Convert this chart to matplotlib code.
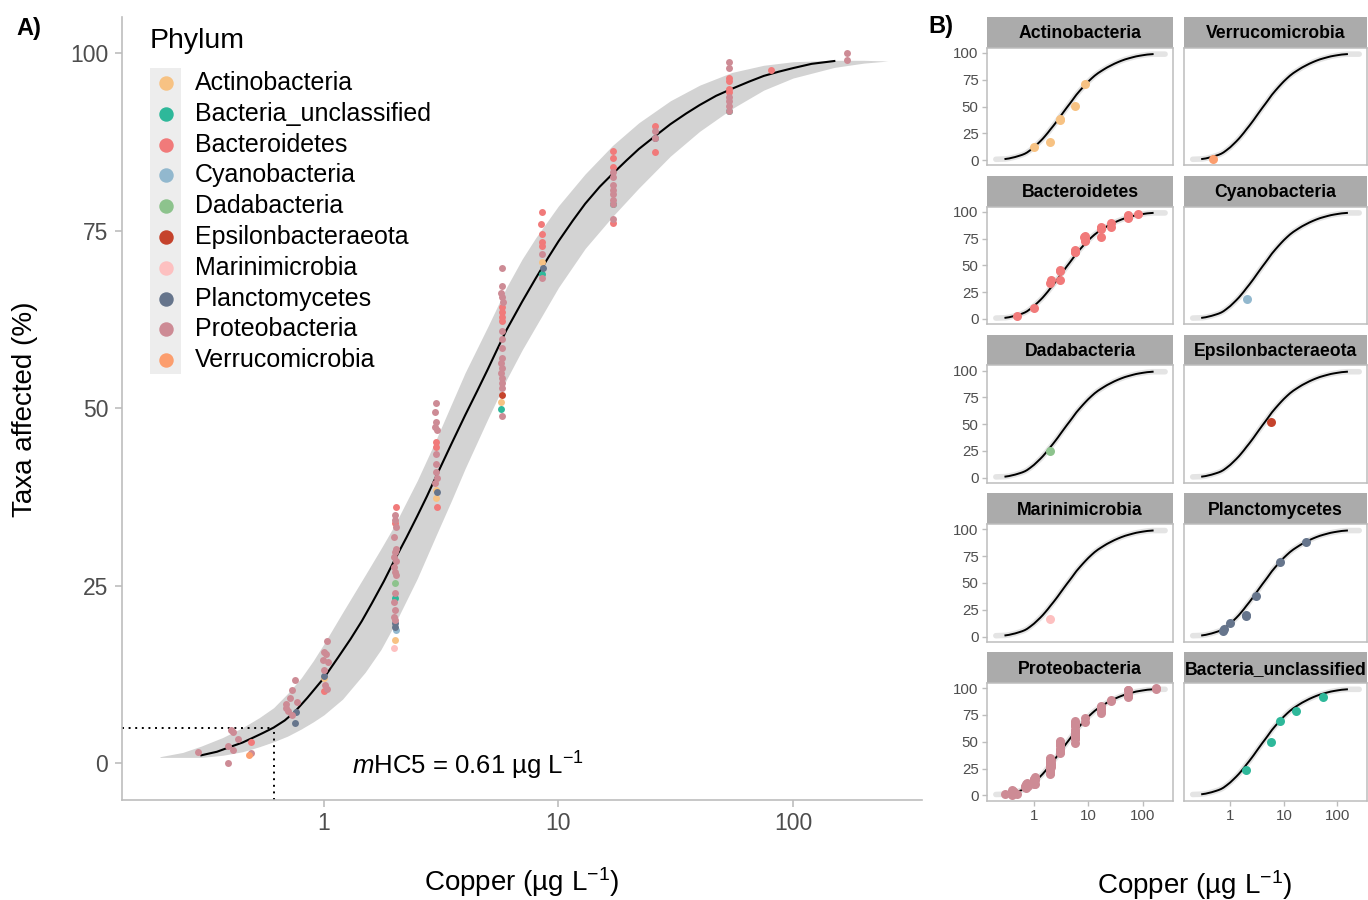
import matplotlib
matplotlib.use("Agg")
import matplotlib.pyplot as plt
from matplotlib.lines import Line2D
from matplotlib.patches import Rectangle
from matplotlib.ticker import NullLocator

plt.rcParams["font.family"] = ["Liberation Sans", "DejaVu Sans"]
plt.rcParams["mathtext.fontset"] = "custom"
plt.rcParams["mathtext.rm"] = "Liberation Sans"
plt.rcParams["mathtext.it"] = "Liberation Sans:italic"

# ---- data (copper in ug/L, taxa affected in %) ----
PHYLA = ["Actinobacteria", "Bacteria_unclassified", "Bacteroidetes", "Cyanobacteria",
         "Dadabacteria", "Epsilonbacteraeota", "Marinimicrobia", "Planctomycetes",
         "Proteobacteria", "Verrucomicrobia"]
COLORS = ["#F7C283", "#2EB89A", "#F17A7A", "#92B8CE", "#8DC38D",
          "#C5432C", "#FDC0C0", "#66758C", "#CD8B95", "#FC9E6E"]

ACTINO_X = [1.0, 2.0, 3.0, 3.0, 5.7, 8.5]
ACTINO_Y = [12.0, 17.3, 38.5, 37.3, 50.9, 70.6]

UNCL_X = [2.0, 5.7, 8.5, 17.1, 53.3]
UNCL_Y = [23.2, 49.9, 68.9, 78.8, 91.9]

BACTERO_X = [0.49, 1.0, 2.02, 2.0, 3.0, 3.01, 3.02, 5.74, 5.74, 5.74, 5.74,
             8.5, 8.45, 8.5, 8.5, 8.5, 17.1, 17.1, 17.1, 17.1, 25.8, 25.8,
             53.3, 53.3, 53.3, 53.3, 80.4]
BACTERO_Y = [3.0, 10.2, 36.1, 33.8, 45.3, 44.5, 36.1, 64.3, 63.6, 62.9, 62.3,
             77.7, 76.0, 74.6, 73.4, 72.9, 86.2, 85.2, 84.0, 76.1, 89.7, 86.1,
             96.5, 96.1, 95.0, 94.6, 97.7]

CYANO_X = [2.02]
CYANO_Y = [18.7]

DADA_X = [2.0]
DADA_Y = [25.3]

EPSILON_X = [5.72]
EPSILON_Y = [51.8]

MARINI_X = [1.98]
MARINI_Y = [16.2]

PLANCTO_X = [0.75, 0.76, 1.0, 2.0, 2.01, 3.04, 8.55, 25.8]
PLANCTO_Y = [5.6, 7.2, 12.2, 19.7, 19.2, 38.2, 69.7, 88.1]

PROTEO_X = [0.29, 0.40, 0.41, 0.43, 0.39, 0.41, 0.39, 0.49,
            0.75, 0.73, 0.72, 0.69, 0.69, 0.70, 0.77, 0.73,
            1.03, 1.00, 1.02, 0.99, 1.04, 1.00, 1.01, 1.03,
            2.00, 2.01, 2.02, 1.98, 2.02, 2.00, 1.99, 2.02, 1.98, 2.00, 2.03,
            2.00, 1.99, 2.00, 1.99, 2.01,
            3.00, 2.97, 3.01, 2.98, 3.03, 3.00, 3.01, 2.99, 3.02, 2.98,
            5.74, 5.74, 5.70, 5.74, 5.78, 5.74, 5.74, 5.76, 5.74, 5.70, 5.74,
            5.70, 5.74, 5.74, 5.74, 5.72,
            8.5, 8.5,
            17.1, 17.1, 17.1, 17.1, 17.1, 17.1, 17.1, 17.1,
            25.8, 25.8,
            53.3, 53.3, 53.3, 53.3, 53.3, 53.3,
            170.0, 170.0]
PROTEO_Y = [1.6, 4.6, 4.4, 3.4, 2.4, 1.8, 0.0, 1.4,
            11.7, 10.3, 9.1, 8.3, 7.7, 7.4, 8.6, 6.8,
            17.2, 15.6, 15.4, 14.5, 14.3, 13.1, 11.0, 10.5,
            34.9, 34.2, 33.3, 31.9, 30.2, 29.8, 29.1, 28.4, 27.6, 26.9, 26.5,
            23.9, 22.7, 21.5, 20.6, 20.2,
            50.7, 49.4, 48.1, 47.4, 46.9, 43.6, 42.2, 41.0, 40.1, 39.5,
            69.7, 67.2, 66.2, 65.7, 65.0, 60.8, 59.8, 58.5, 57.0, 56.3, 55.6,
            54.9, 54.2, 53.6, 52.9, 48.9,
            71.7, 68.4,
            83.3, 82.6, 81.4, 80.7, 80.2, 79.3, 78.8, 76.7,
            89.0, 88.1,
            98.7, 97.9, 93.9, 93.3, 92.6, 91.9,
            100.0, 99.1]

VERRUCO_X = [0.48]
VERRUCO_Y = [1.1]

# fitted species sensitivity curve and its confidence band
CURVE_X = [0.3, 0.35, 0.4, 0.45, 0.5, 0.55, 0.61, 0.68, 0.75, 0.85, 1, 1.15,
           1.3, 1.45, 1.6, 1.8, 2, 2.25, 2.5, 2.75, 3, 3.5, 4, 4.5, 5, 5.5, 6,
           7, 8, 9, 10, 11.5, 13, 15, 17, 19.5, 22, 26, 30, 35, 40, 47, 55, 65,
           75, 87, 100, 120, 150]
CURVE_Y = [1.1, 1.6, 2.3, 2.9, 3.6, 4.25, 5.0, 6.0, 7.2, 9.2, 12.0, 14.9,
           17.5, 20.0, 22.5, 25.6, 28.6, 31.8, 34.8, 37.6, 40.3, 45.0, 49.0,
           52.4, 55.5, 58.4, 61.0, 65.0, 68.3, 71.1, 73.5, 76.4, 78.8, 81.2,
           83.0, 84.9, 86.5, 88.4, 90.0, 91.5, 92.7, 94.0, 95.0, 96.0, 96.8,
           97.4, 97.9, 98.5, 98.9]
BAND_X = [0.2, 0.25, 0.3, 0.37, 0.45, 0.53, 0.61, 0.7, 0.8, 0.9, 1, 1.2, 1.5,
          1.75, 2, 2.5, 3, 3.5, 4, 5, 6, 7, 8, 10, 13, 17, 22, 30, 40, 55, 75,
          100, 150, 200, 254]
BAND_HI = [0.9, 1.5, 2.4, 3.6, 5.0, 6.4, 7.8, 9.8, 12.0, 14.4, 16.8, 21.2,
           26.5, 30.2, 33.5, 39.8, 45.5, 50.6, 55.0, 61.5, 67.0, 71.0, 74.0,
           78.5, 83.0, 87.0, 90.2, 93.3, 95.5, 97.3, 98.3, 98.8, 99.0, 99.0, 98.9]
BAND_LO = [0.8, 0.8, 0.8, 1.1, 1.6, 2.3, 3.0, 3.8, 4.8, 5.8, 6.8, 9.0, 12.8,
           16.0, 19.5, 26.0, 32.0, 37.0, 41.5, 48.5, 54.0, 58.2, 61.5, 67.0,
           72.5, 77.0, 81.0, 85.5, 89.0, 92.2, 94.8, 96.5, 98.0, 98.6, 98.9]

HC5 = 0.61

PHYLUM_X = [ACTINO_X, UNCL_X, BACTERO_X, CYANO_X, DADA_X, EPSILON_X,
            MARINI_X, PLANCTO_X, PROTEO_X, VERRUCO_X]
PHYLUM_Y = [ACTINO_Y, UNCL_Y, BACTERO_Y, CYANO_Y, DADA_Y, EPSILON_Y,
            MARINI_Y, PLANCTO_Y, PROTEO_Y, VERRUCO_Y]

FACET_ORDER = ["Actinobacteria", "Verrucomicrobia", "Bacteroidetes", "Cyanobacteria",
               "Dadabacteria", "Epsilonbacteraeota", "Marinimicrobia", "Planctomycetes",
               "Proteobacteria", "Bacteria_unclassified"]

W, H = 1368, 900
XLIM = (0.1377, 354.8)
TICK_GREY = "#4D4D4D"
LINE_GREY = "#BDBDBD"
COPPER_LABEL = "Copper (µg L$^{-1}$)"


def px_axes(fig, left, top, right, bottom):
    return fig.add_axes([left / W, 1 - bottom / H, (right - left) / W, (bottom - top) / H])


def log_x(ax):
    ax.set_xscale("log")
    ax.set_xlim(*XLIM)
    ax.xaxis.set_minor_locator(NullLocator())


fig = plt.figure(figsize=(W / 100, H / 100), dpi=100)

# ---------------- panel A ----------------
ax = px_axes(fig, 122, 17, 922, 800)
log_x(ax)
ax.set_ylim(-5.2, 105.1)
ax.fill_between(BAND_X, BAND_LO, BAND_HI, color="#D3D3D3", lw=0, zorder=1)
ax.plot(CURVE_X, CURVE_Y, color="black", lw=1.5, zorder=2)
ax.plot([XLIM[0], HC5], [5, 5], color="black", lw=1.4, ls=(0, (1, 2.4)), zorder=2)
ax.plot([HC5, HC5], [-5.2, 5], color="black", lw=1.4, ls=(0, (1, 2.4)), zorder=2)
for xs, ys, c in zip(PHYLUM_X, PHYLUM_Y, COLORS):
    ax.scatter(xs, ys, s=25, color=c, lw=0, zorder=3)
ax.text(1.32, -0.4, r"$\mathit{m}$HC5 = 0.61 µg L$^{-1}$", fontsize=18.5,
        ha="left", va="center")

for side in ["top", "right"]:
    ax.spines[side].set_visible(False)
for side in ["left", "bottom"]:
    ax.spines[side].set_color(LINE_GREY)
    ax.spines[side].set_linewidth(1.2)
ax.set_yticks([0, 25, 50, 75, 100])
ax.set_xticks([1, 10, 100])
ax.set_xticklabels(["1", "10", "100"])
ax.tick_params(axis="both", labelsize=16.5, labelcolor=TICK_GREY, color=LINE_GREY,
               length=5, width=1.2)
ax.tick_params(axis="y", pad=5)
ax.tick_params(axis="x", pad=3.5)

fig.text(25 / W, 1 - 409 / H, "Taxa affected (%)", rotation=90, fontsize=20,
         ha="center", va="center")
fig.text(522 / W, 1 - 882 / H, COPPER_LABEL, fontsize=20, ha="center", va="center")
fig.text(16 / W, 1 - 28 / H, "A)", fontsize=17, fontweight="bold", va="center")

# legend drawn ggplot-style (grey key background)
fig.text(150 / W, 1 - 41 / H, "Phylum", fontsize=20.5, ha="left", va="center")
fig.add_artist(Rectangle((150 / W, 1 - 374 / H), 31 / W, 306 / H,
                         transform=fig.transFigure, color="#EDEDED", lw=0))
for i, (name, c) in enumerate(zip(PHYLA, COLORS)):
    yy = 1 - (83 + 30.8 * i) / H
    fig.add_artist(Line2D([165.5 / W], [yy], marker="o", ms=9.4, color=c, lw=0,
                          transform=fig.transFigure))
    fig.text(195 / W, yy, name, fontsize=18, ha="left", va="center")

# ---------------- panel B ----------------
col_edges = [(987, 1173), (1184, 1367)]
halo_x = [BAND_X[0]] + CURVE_X + [BAND_X[-1]]
halo_y = [BAND_LO[0]] + CURVE_Y + [BAND_HI[-1]]
for k, name in enumerate(FACET_ORDER):
    row, col = divmod(k, 2)
    left, right = col_edges[col]
    st = 17 + 158.8 * row
    sax = px_axes(fig, left, st, right, st + 30.8)
    sax.set_facecolor("#ABABAB")
    sax.set_xticks([])
    sax.set_yticks([])
    for sp in sax.spines.values():
        sp.set_visible(False)
    sax.text(0.5, 0.45, name, transform=sax.transAxes, fontsize=12.7,
             fontweight="bold", ha="center", va="center")

    pax = px_axes(fig, left, st + 30.8, right, st + 30.8 + 117.5)
    log_x(pax)
    pax.set_ylim(-4.8, 104.8)
    pax.plot(halo_x, halo_y, color="#E4E4E4", lw=4, solid_capstyle="round", zorder=1)
    pax.plot(CURVE_X, CURVE_Y, color="black", lw=1.4, zorder=2)
    i = PHYLA.index(name)
    pax.scatter(PHYLUM_X[i], PHYLUM_Y[i], s=42, color=COLORS[i], lw=0, zorder=3)
    for sp in pax.spines.values():
        sp.set_color(LINE_GREY)
        sp.set_linewidth(1.1)
    if col == 0:
        pax.set_yticks([0, 25, 50, 75, 100])
    else:
        pax.set_yticks([])
    if row == 4:
        pax.set_xticks([1, 10, 100])
        pax.set_xticklabels(["1", "10", "100"])
    else:
        pax.set_xticks([])
    pax.tick_params(axis="both", labelsize=10.8, labelcolor=TICK_GREY, color=LINE_GREY,
                    length=3.5, width=1.0, pad=2.5)

fig.text(1195 / W, 1 - 885 / H, COPPER_LABEL, fontsize=20, ha="center", va="center")
fig.text(928 / W, 1 - 27 / H, "B)", fontsize=17, fontweight="bold", va="center")

fig.savefig("out.png", dpi=100)
